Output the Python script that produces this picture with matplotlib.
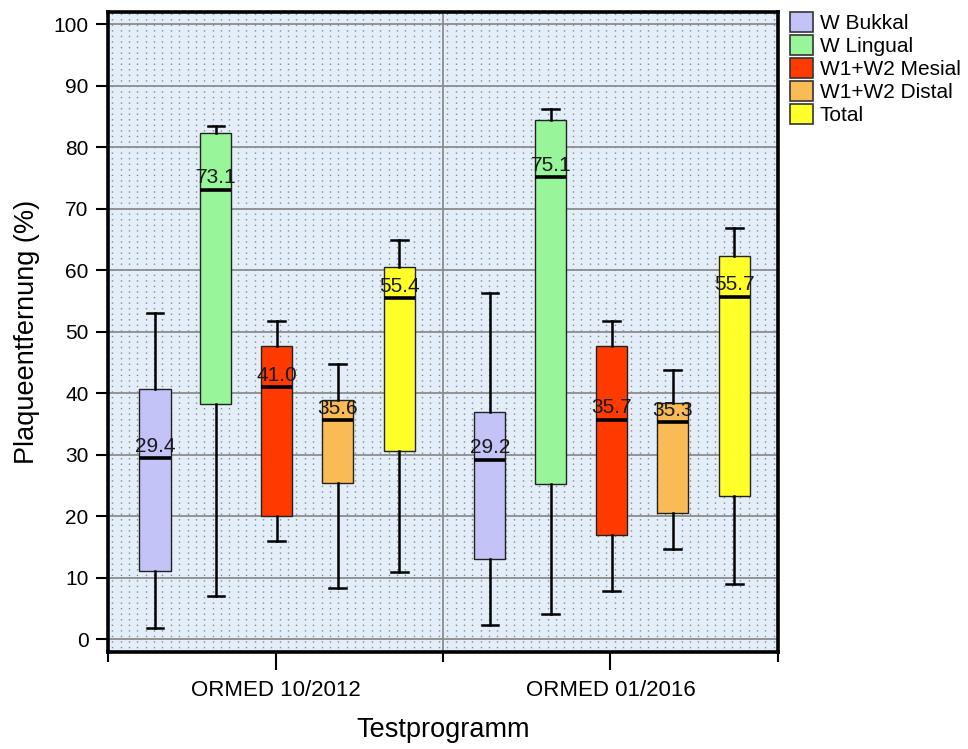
import numpy as np
import matplotlib.pyplot as plt
from matplotlib.patches import Patch

plt.rcParams['font.family'] = ['Liberation Sans', 'DejaVu Sans']

# Data (percent plaque removal)
groups = ['ORMED 10/2012', 'ORMED 01/2016']
series = ['W Bukkal', 'W Lingual', 'W1+W2 Mesial', 'W1+W2 Distal', 'Total']
colors = ['#c3c3f7', '#98f59a', '#ff3a00', '#f8bb55', '#ffff2a']

# per group, per series
whislo = [[1.8, 7.0, 15.9, 8.3, 10.9],
          [2.3, 4.1, 7.8, 14.7, 8.9]]
q1 = [[11.1, 38.2, 20.0, 25.4, 30.6],
      [13.0, 25.3, 17.0, 20.5, 23.3]]
med = [[29.4, 73.1, 41.0, 35.6, 55.4],
       [29.2, 75.1, 35.7, 35.3, 55.7]]
q3 = [[40.6, 82.3, 47.6, 38.9, 60.6],
      [37.0, 84.4, 47.6, 38.4, 62.3]]
whishi = [[53.0, 83.4, 51.7, 44.7, 64.9],
          [56.3, 86.2, 51.7, 43.8, 66.8]]

fig = plt.figure(figsize=(9.68, 7.49), dpi=100)
ax = fig.add_axes([0.1116, 0.1295, 0.6921, 0.8545])
ax.set_facecolor('#e4eef8')

# dotted background pattern
ax.vlines(np.arange(0.0125, 2, 0.025), -5, 105, colors='#858a92',
          linestyles=(0, (1, 3)), linewidth=1.0, zorder=0)
for y in range(0, 101, 10):
    ax.axhline(y, color='#8c8c8c', linewidth=1.3, zorder=0.5)
ax.axvline(1, color='#8c8c8c', linewidth=1.3, zorder=0.5)

offsets = [-0.36, -0.178, 0.004, 0.186, 0.37]
for g in range(len(groups)):
    for s in range(len(series)):
        pos = g + 0.5 + offsets[s]
        st = dict(whislo=whislo[g][s], q1=q1[g][s], med=med[g][s],
                  q3=q3[g][s], whishi=whishi[g][s], fliers=[])
        ax.bxp([st], positions=[pos], widths=0.093, patch_artist=True,
               showfliers=False, manage_ticks=False,
               boxprops=dict(facecolor=colors[s], edgecolor='#222222', linewidth=1.0),
               medianprops=dict(color='black', linewidth=2.6),
               whiskerprops=dict(color='black', linewidth=1.8),
               capprops=dict(color='black', linewidth=1.8),
               capwidths=0.05)
        ax.text(pos, med[g][s] + 0.4, f'{med[g][s]:.1f}', ha='center', va='bottom',
                fontsize=15, color='#1a1a1a', zorder=5)

ax.set_xlim(0, 2)
ax.set_ylim(-2.1, 102)
ax.set_yticks(range(0, 101, 10))
ax.set_xticks([0.5, 1.5])
ax.set_xticklabels(groups)
ax.set_xticks([0, 1, 2], minor=True)
ax.tick_params(axis='y', labelsize=15, length=9, width=1.5, pad=5)
ax.tick_params(axis='x', which='major', labelsize=16, length=13, width=1.5, pad=7)
ax.tick_params(axis='x', which='minor', length=7, width=1.5)
for sp in ax.spines.values():
    sp.set_linewidth(2.6)
    sp.set_zorder(6)

ax.set_ylabel('Plaqueentfernung (%)', fontsize=19.5, labelpad=10)
ax.set_xlabel('Testprogramm', fontsize=19.5, labelpad=12)

handles = [Patch(facecolor=c, edgecolor='#333333', linewidth=1.2) for c in colors]
ax.legend(handles, series, loc='upper left', bbox_to_anchor=(1.0, 1.02),
          frameon=False, fontsize=15, handlelength=1.1, handleheight=1.1,
          handletextpad=0.3, labelspacing=0.1, borderaxespad=0.2)

fig.savefig('out.png', dpi=100)
